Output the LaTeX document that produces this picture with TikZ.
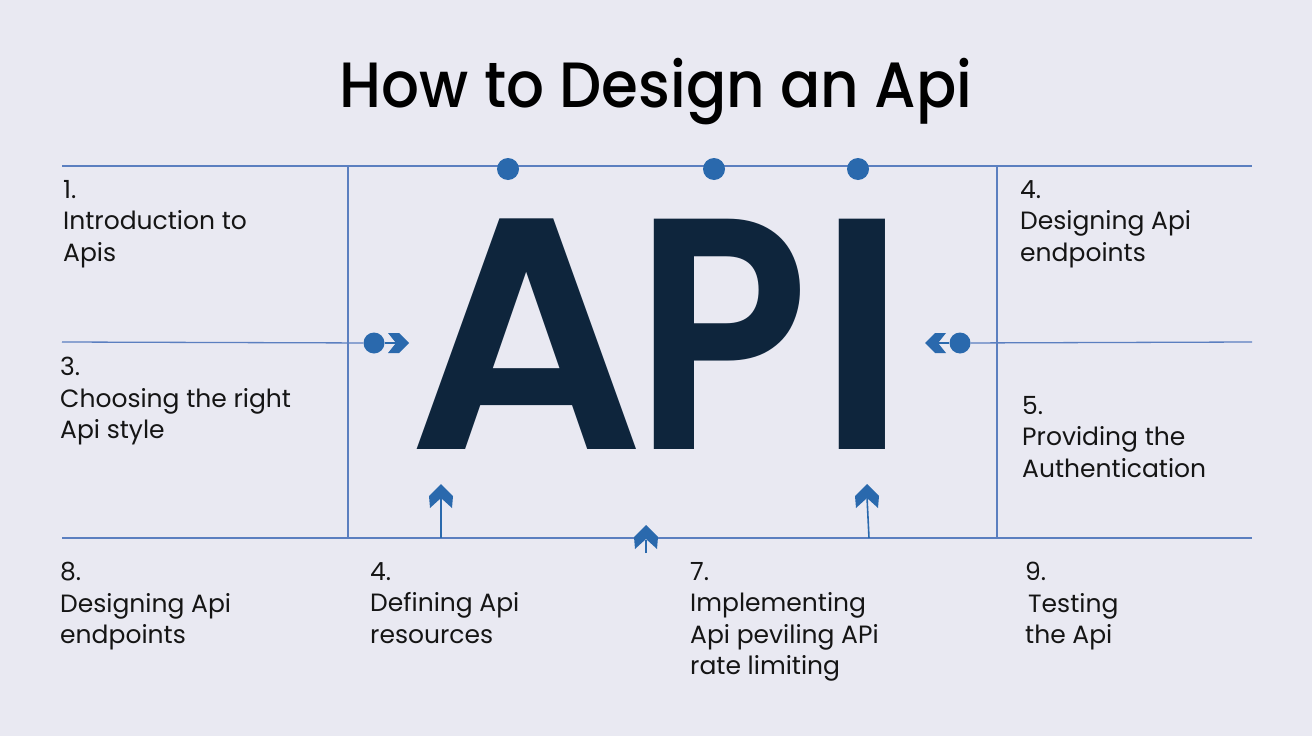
\documentclass[tikz,border=0pt]{standalone}
\usepackage{fontspec}
\setmainfont{Poppins}
\newfontfamily\semib{Poppins SemiBold}
\newfontfamily\semibw{Poppins SemiBold}[FakeStretch=0.87]
\newfontfamily\medf{Poppins Medium}[FakeStretch=0.93]
\definecolor{bg}{HTML}{E9E9F2}
\definecolor{ln}{HTML}{5B7FC0}
\definecolor{dotc}{HTML}{2A69AD}
\definecolor{navy}{HTML}{0E253C}
\definecolor{ink}{HTML}{151515}
\begin{document}
\begin{tikzpicture}[x=1pt,y=-1pt,
  line/.style={draw=ln,line width=1.3pt},
  dotm/.style={circle,fill=dotc,inner sep=0pt,minimum size=22pt},
  lbl/.style={anchor=north west,align=left,inner sep=0pt,font=\fontsize{25}{31.5}\selectfont,text=ink},
  big/.style={anchor=base,inner sep=0pt,font=\semib\fontsize{330}{330}\selectfont,text=navy},
  chev/.style={fill=dotc}]
\fill[bg] (0,0) rectangle (1312,736);
\useasboundingbox (0,0) rectangle (1312,736);

% title
\node[anchor=base,inner sep=0pt,font=\medf\fontsize{64}{64}\selectfont,text=black] (title) at (656,107) {How to Design an Api};

% frame coordinates
\coordinate (tl) at (62,166);   \coordinate (tr) at (1252,166);
\coordinate (bl) at (62,538);   \coordinate (br) at (1252,538);
\coordinate (vlt) at (348,166); \coordinate (vlb) at (348,538);
\coordinate (vrt) at (997,166); \coordinate (vrb) at (997,538);
\coordinate (ml) at (62,342);   \coordinate (mr) at (1252,342);

\draw[line] (tl) -- (tr);
\draw[line] (bl) -- (br);
\draw[line] (vlt) -- (vlb);
\draw[line] (vrt) -- (vrb);

% top dots
\node[dotm] (d1) at (508,169) {};
\node[dotm] (d2) at (714,169) {};
\node[dotm] (d3) at (858,169) {};

% left connector
\node[dotm,minimum size=21pt] (dl) at (374,343) {};
\draw[line] (ml) -- (dl);
\coordinate (cl) at (396,343);
\draw[dotc,line width=2pt] (dl) -- (cl);
\fill[chev] (388,333) -- (399,333) -- (409,343) -- (399,353) -- (388,353) -- (396,343) -- cycle;

% right connector
\node[dotm,minimum size=21pt] (dr) at (960,343) {};
\draw[line] (dr) -- (mr);
\coordinate (cr) at (938,343);
\draw[dotc,line width=2pt] (dr) -- (cr);
\fill[chev] (946,333) -- (935,333) -- (925,343) -- (935,353) -- (946,353) -- (938,343) -- cycle;

% up arrows
\coordinate (a1b) at (441,538); \coordinate (a1t) at (441,497);
\draw[dotc,line width=1.6pt] (a1b) -- (a1t);
\fill[chev] (441,484) -- (453,496) -- (452,508) -- (441,498) -- (430,508) -- (429,496) -- cycle;

\coordinate (a3b) at (869,538); \coordinate (a3t) at (867,497);
\draw[dotc,line width=1.6pt] (a3b) -- (a3t);
\fill[chev] (867,484) -- (879,496) -- (878,508) -- (867,498) -- (856,508) -- (855,496) -- cycle;

\coordinate (a2b) at (646,553); \coordinate (a2t) at (646,540);
\draw[dotc,line width=1.6pt] (a2b) -- (a2t);
\fill[chev] (646,525) -- (658,537) -- (657,549) -- (646,539) -- (635,549) -- (634,537) -- cycle;

% big API
\node[big] (bA) at (527,449) {A};
\node[big,font=\semibw\fontsize{330}{330}\selectfont] (bP) at (722,449) {P};
\node[big] (bI) at (862,449) {I};

% labels
\node[lbl] (l1) at (63,180) {1.\\Introduction to\\Apis};
\node[lbl] (l4a) at (1020,180) {4.\\Designing Api\\endpoints};
\node[lbl] (l3) at (60,357) {3.\\Choosing the right\\Api style};
\node[lbl] (l5) at (1022,396) {5.\\Providing the\\Authentication};
\node[lbl] (l8) at (60,562) {8.\\Designing Api\\endpoints};
\node[lbl] (l4b) at (370,562) {4.\\Defining Api\\resources};
\node[lbl] (l7) at (690,562) {7.\\Implementing\\Api peviling APi\\rate limiting};
\node[lbl] (l9) at (1025,562) {9.\\\hspace*{3pt}Testing\\the Api};
\end{tikzpicture}
\end{document}
